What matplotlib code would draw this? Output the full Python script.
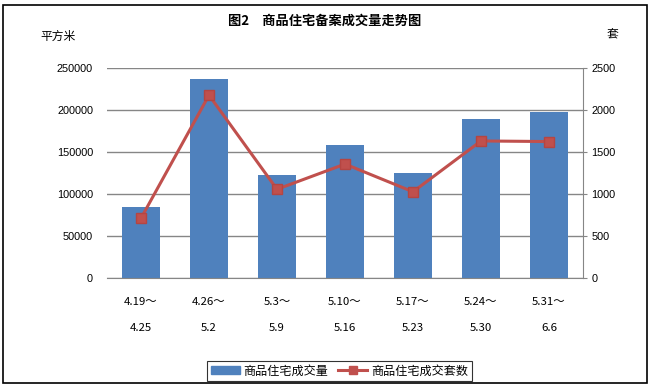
import matplotlib
matplotlib.use("Agg")
import matplotlib.pyplot as plt
from matplotlib.patches import Rectangle
from matplotlib.lines import Line2D

categories_top = ["4.19～", "4.26～", "5.3～", "5.10～", "5.17～", "5.24～", "5.31～"]
categories_bottom = ["4.25", "5.2", "5.9", "5.16", "5.23", "5.30", "6.6"]
area_values = [85000, 237500, 123000, 158500, 125500, 189500, 198000]
units_values = [715, 2180, 1060, 1360, 1030, 1635, 1628]
left_ticks = [0, 50000, 100000, 150000, 200000, 250000]
right_ticks = [0, 500, 1000, 1500, 2000, 2500]

CJK = ["Noto Sans CJK SC", "DejaVu Sans"]
NUM = ["Liberation Sans", "DejaVu Sans"]
BAR_C = "#4F81BD"
LINE_C = "#C0504D"
GRID_C = "#868686"

W, H = 652, 389
fig = plt.figure(figsize=(W / 100, H / 100), dpi=100)

def fx(px):
    return px / W

def fy(py):
    return 1 - py / H

ax = fig.add_axes([fx(107), fy(278.3), fx(583) - fx(107), fy(68.3) - fy(278.3)])
x = list(range(len(categories_top)))
ax.bar(x, area_values, width=0.56, color=BAR_C, zorder=2)
ax.set_xlim(-0.5, len(x) - 0.5)
ax.set_ylim(0, 250000)
ax.set_yticks(left_ticks)
ax.set_yticklabels([str(v) for v in left_ticks], fontfamily=NUM, fontsize=7.8)
ax.yaxis.grid(True, color=GRID_C, linewidth=1, zorder=0)
ax.set_axisbelow(True)
ax.tick_params(axis="y", length=0, pad=10)
ax.tick_params(axis="x", length=0, pad=0)
ax.set_xticks(x)
ax.set_xticklabels([])
for s in ["left", "top", "right"]:
    ax.spines[s].set_visible(False)
ax.spines["bottom"].set_color(GRID_C)

for i, (t, b) in enumerate(zip(categories_top, categories_bottom)):
    ax.annotate(t, xy=(i, 0), xycoords=("data", "axes fraction"), xytext=(0, -17),
                textcoords="offset points", ha="center", va="center",
                fontfamily=CJK, fontsize=8.2)
    ax.annotate(b, xy=(i, 0), xycoords=("data", "axes fraction"), xytext=(0, -36),
                textcoords="offset points", ha="center", va="center",
                fontfamily=CJK, fontsize=8.2)

ax2 = ax.twinx()
ax2.plot(x, units_values, color=LINE_C, linewidth=2.2, marker="s", markersize=7,
         markerfacecolor=LINE_C, markeredgecolor="#B54542", zorder=5)
ax2.set_ylim(0, 2500)
ax2.set_yticks(right_ticks)
ax2.set_yticklabels([str(v) for v in right_ticks], fontfamily=NUM, fontsize=7.8)
ax2.tick_params(axis="y", length=3, color=GRID_C, pad=3)
for s in ["left", "top", "bottom"]:
    ax2.spines[s].set_visible(False)
ax2.spines["right"].set_color(GRID_C)

fig.text(fx(325), fy(21), "图2　商品住宅备案成交量走势图", ha="center", va="center",
         fontfamily=CJK, fontsize=9.5, fontweight="bold")
fig.text(fx(40), fy(36), "平方米", ha="left", va="center", fontfamily=CJK, fontsize=8.5)
fig.text(fx(612), fy(35), "套", ha="center", va="center", fontfamily=CJK, fontsize=8.5)

handles = [Rectangle((0, 0), 1, 1, color=BAR_C),
           Line2D([0], [0], color=LINE_C, linewidth=2.2, marker="s", markersize=6)]
leg = fig.legend(handles, ["商品住宅成交量", "商品住宅成交套数"], loc="center",
                 bbox_to_anchor=(fx(339.5), fy(371)), ncol=2, frameon=True,
                 fancybox=False, prop={"family": CJK, "size": 8.7},
                 handlelength=2.4, handletextpad=0.35, columnspacing=0.8,
                 borderpad=0.25, borderaxespad=0, handleheight=0.6)
leg.get_frame().set_edgecolor("black")
leg.get_frame().set_linewidth(0.8)

border = Rectangle((fx(3), fy(383)), fx(647) - fx(3), fy(5) - fy(383),
                   transform=fig.transFigure, fill=False, edgecolor="black", linewidth=1.2)
fig.patches.append(border)

fig.savefig("out.png", dpi=100)
